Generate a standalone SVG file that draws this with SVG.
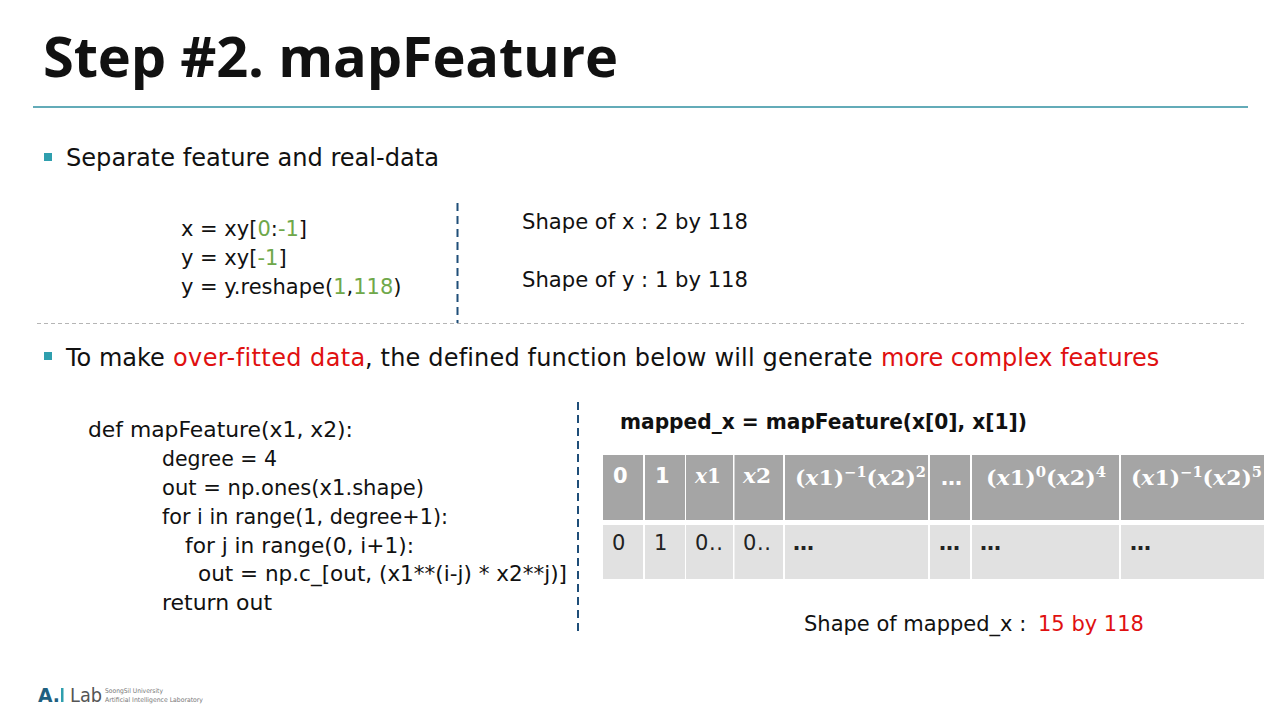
<svg xmlns="http://www.w3.org/2000/svg" width="1280" height="720" viewBox="0 0 1280 720">
<style>
text{font-family:"DejaVu Sans","Noto Sans",sans-serif;fill:#111;white-space:pre}
.b{font-size:24px}
.s{font-size:22px}
.k{font-size:21px}
.c{font-size:21.500px}
.red{fill:#e01010}
.grn{fill:#6fa84a}
.h{fill:#a5a5a5}
.r{fill:#e1e1e1}
.hd{font-size:21px;font-weight:bold;fill:#fff}
.m{font-family:"DejaVu Serif","Liberation Serif",serif;font-weight:bold;font-size:21px;fill:#fff}
.mi{font-style:italic}
.sup{font-size:14px}
.cell{font-size:21px;fill:#222}
.bul{fill:#2f9fae}
</style>
<rect width="1280" height="720" fill="#fff"/>
<g id="title">
<text x="43" y="77" style="font-family:'Open Sans','Noto Sans',sans-serif" font-size="56" font-weight="bold" textLength="575" lengthAdjust="spacing">Step #2. mapFeature</text>
<line x1="33" y1="107" x2="1248" y2="107" stroke="#2f8fa0" stroke-width="1.500"/>
</g>
<g id="section1">
<rect class="bul" x="44" y="153" width="8" height="8"/>
<text class="b" x="66" y="166" textLength="373" lengthAdjust="spacingAndGlyphs">Separate feature and real-data</text>
<text class="k" x="181" y="236">x = xy[<tspan class="grn">0</tspan>:<tspan class="grn">-1</tspan>]</text>
<text class="k" x="181" y="265">y = xy[<tspan class="grn">-1</tspan>]</text>
<text class="k" x="181" y="294">y = y.reshape(<tspan class="grn">1</tspan>,<tspan class="grn">118</tspan>)</text>
<text class="s" x="522" y="229" textLength="226" lengthAdjust="spacingAndGlyphs">Shape of x : 2 by 118</text>
<text class="s" x="522" y="287" textLength="226" lengthAdjust="spacingAndGlyphs">Shape of y : 1 by 118</text>
</g>
<g id="connectors" fill="none">
<line x1="457.500" y1="203" x2="457.500" y2="323" stroke="#1f4e79" stroke-width="2" stroke-dasharray="8 5"/>
<line x1="37" y1="323.500" x2="1244" y2="323.500" stroke="#b5b5b5" stroke-width="1" stroke-dasharray="4 3"/>
<line x1="578" y1="402" x2="578" y2="634" stroke="#1f4e79" stroke-width="2" stroke-dasharray="8 5"/>
</g>
<g id="section2">
<rect class="bul" x="44" y="352" width="8" height="8"/>
<text class="b" x="66" y="366">To make <tspan class="red" x="173" letter-spacing="0.400">over-fitted data</tspan><tspan x="365" letter-spacing="0.170">, the defined function below will generate</tspan> <tspan class="red" x="881">more complex features</tspan></text>
<text class="c" x="88" y="437" textLength="265" lengthAdjust="spacingAndGlyphs">def mapFeature(x1, x2):</text>
<text class="c" x="162" y="466" textLength="115" lengthAdjust="spacingAndGlyphs">degree = 4</text>
<text class="c" x="162" y="495" textLength="262" lengthAdjust="spacingAndGlyphs">out = np.ones(x1.shape)</text>
<text class="c" x="162" y="524" textLength="286" lengthAdjust="spacingAndGlyphs">for i in range(1, degree+1):</text>
<text class="c" x="185" y="553" textLength="229" lengthAdjust="spacingAndGlyphs">for j in range(0, i+1):</text>
<text class="c" x="198" y="581" textLength="369" lengthAdjust="spacingAndGlyphs">out = np.c_[out, (x1**(i-j) * x2**j)]</text>
<text class="c" x="162" y="610" textLength="110" lengthAdjust="spacingAndGlyphs">return out</text>
<text x="620" y="429" font-size="22" font-weight="bold" textLength="407" lengthAdjust="spacingAndGlyphs">mapped_x = mapFeature(x[0], x[1])</text>
</g>
<g id="table">
<rect class="h" x="603" y="455" width="40" height="65"/>
<rect class="h" x="645" y="455" width="40" height="65"/>
<rect class="h" x="686" y="455" width="47" height="65"/>
<rect class="h" x="734.500" y="455" width="48.500" height="65"/>
<rect class="h" x="785" y="455" width="143" height="65"/>
<rect class="h" x="930" y="455" width="40" height="65"/>
<rect class="h" x="972" y="455" width="147" height="65"/>
<rect class="h" x="1121" y="455" width="143" height="65"/>
<rect class="r" x="603" y="525" width="40" height="54"/>
<rect class="r" x="645" y="525" width="40" height="54"/>
<rect class="r" x="686" y="525" width="47" height="54"/>
<rect class="r" x="734.500" y="525" width="48.500" height="54"/>
<rect class="r" x="785" y="525" width="143" height="54"/>
<rect class="r" x="930" y="525" width="40" height="54"/>
<rect class="r" x="972" y="525" width="147" height="54"/>
<rect class="r" x="1121" y="525" width="143" height="54"/>
<text class="hd" x="613" y="483">0</text>
<text class="hd" x="655" y="483">1</text>
<text class="m" x="695" y="483" textLength="26" lengthAdjust="spacingAndGlyphs"><tspan class="mi">x</tspan>1</text>
<text class="m" x="743" y="483" textLength="28" lengthAdjust="spacingAndGlyphs"><tspan class="mi">x</tspan>2</text>
<text class="m" x="795" y="485" textLength="131" lengthAdjust="spacingAndGlyphs">(<tspan class="mi">x</tspan>1)<tspan class="sup" dy="-8">−1</tspan><tspan dy="8">(</tspan><tspan class="mi">x</tspan>2)<tspan class="sup" dy="-8">2</tspan></text>
<text class="hd" x="941" y="485">…</text>
<text class="m" x="986" y="485" textLength="120" lengthAdjust="spacingAndGlyphs">(<tspan class="mi">x</tspan>1)<tspan class="sup" dy="-8">0</tspan><tspan dy="8">(</tspan><tspan class="mi">x</tspan>2)<tspan class="sup" dy="-8">4</tspan></text>
<text class="m" x="1131" y="485" textLength="131" lengthAdjust="spacingAndGlyphs">(<tspan class="mi">x</tspan>1)<tspan class="sup" dy="-8">−1</tspan><tspan dy="8">(</tspan><tspan class="mi">x</tspan>2)<tspan class="sup" dy="-8">5</tspan></text>
<text class="cell" x="612" y="550">0</text>
<text class="cell" x="654" y="550">1</text>
<text class="cell" x="695" y="550" textLength="28">0..</text>
<text class="cell" x="743" y="550" textLength="28">0..</text>
<text class="cell" x="793" y="550" font-weight="bold">…</text>
<text class="cell" x="939" y="550" font-weight="bold">…</text>
<text class="cell" x="980" y="550" font-weight="bold">…</text>
<text class="cell" x="1130" y="550" font-weight="bold">…</text>
<text class="k" x="804" y="631">Shape of mapped_x : <tspan class="red" x="1038">15 by 118</tspan></text>
</g>
<g id="logo">
<text x="38" y="702" font-size="19" font-weight="bold" style="fill:#1f5f80" textLength="22" lengthAdjust="spacingAndGlyphs">A.</text>
<rect x="61" y="688" width="2.500" height="14" fill="#2f9fae"/>
<text x="70" y="702" font-size="20" style="fill:#555" textLength="32" lengthAdjust="spacingAndGlyphs">Lab</text>
<text x="105" y="692.500" font-size="6.500" style="fill:#777" textLength="58" lengthAdjust="spacingAndGlyphs">SoongSil University</text>
<text x="105" y="701.500" font-size="6.500" style="fill:#777" textLength="98" lengthAdjust="spacingAndGlyphs">Artificial Intelligence Laboratory</text>
</g>
</svg>
